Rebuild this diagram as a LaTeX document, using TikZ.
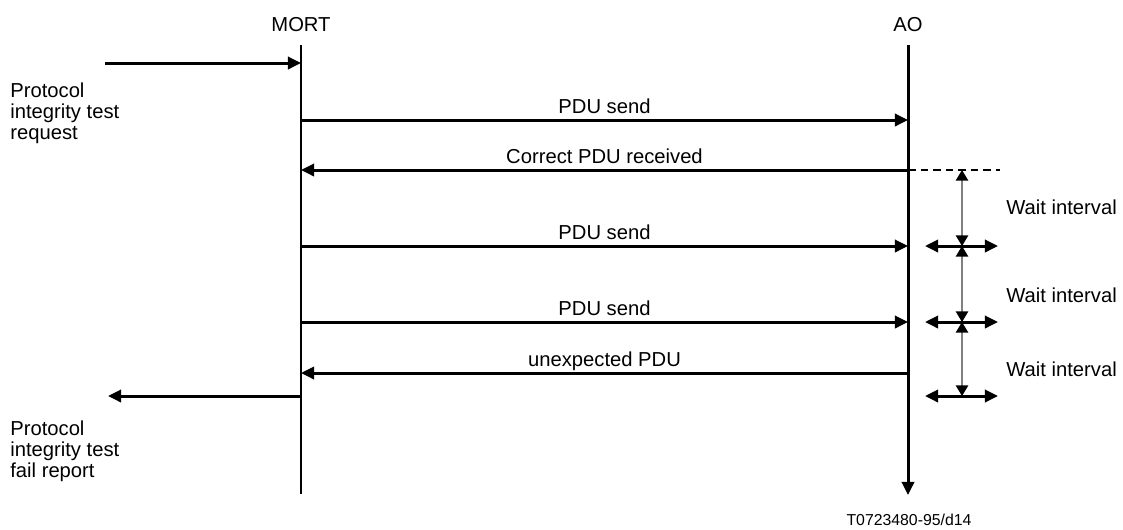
\documentclass[tikz,border=0pt]{standalone}
\usepackage{fontspec}
\setmainfont{Liberation Sans}
\usetikzlibrary{arrows.meta}
\tikzset{
  life/.style={line width=1.7pt},
  msg/.style={line width=1.7pt, -{Triangle[length=7.5pt,width=7pt]}},
  span/.style={line width=1.7pt, {Triangle[length=7.5pt,width=7pt]}-{Triangle[length=7.5pt,width=7pt]}},
  interval/.style={gray, line width=0.7pt, {Triangle[length=6pt,width=7pt,color=black]}-{Triangle[length=6pt,width=7pt,color=black]}},
  lbl/.style={anchor=base, yshift=0.13cm, inner sep=0pt},
  side/.style={anchor=north west, align=left, inner sep=0pt}
}
\begin{document}
\begin{tikzpicture}[font=\fontsize{11.5}{12}\selectfont]
\useasboundingbox (0,0) rectangle (22.46,-10.58);

\node[anchor=base] (mort) at (6.02,-0.62) {MORT};
\node[anchor=base] (ao) at (18.16,-0.62) {AO};
\coordinate (mort top) at (6.02,-0.9);
\coordinate (mort end) at (6.02,-9.88);
\coordinate (ao top) at (18.16,-0.9);
\coordinate (ao end) at (18.16,-9.9);
\draw[life] (mort top) -- (mort end);
\draw[msg] (ao top) -- (ao end);

% message levels
\foreach \n/\y in {1/-2.4, 2/-3.4, 3/-4.92, 4/-6.44, 5/-7.46} {
  \coordinate (m\n) at (6.02,\y);
  \coordinate (a\n) at (18.16,\y);
}
\draw[msg] (m1) -- node[lbl] {PDU send} (a1);
\draw[msg] (a2) -- node[lbl] {Correct PDU received} (m2);
\draw[msg] (m3) -- node[lbl] {PDU send} (a3);
\draw[msg] (m4) -- node[lbl] {PDU send} (a4);
\draw[msg] (a5) -- node[lbl] {unexpected PDU} (m5);

% request and report
\coordinate (req) at (2.1,-1.26);
\coordinate (m0) at (6.02,-1.26);
\coordinate (m6) at (6.02,-7.92);
\coordinate (fail) at (2.16,-7.92);
\draw[msg] (req) -- (m0);
\draw[msg] (m6) -- (fail);
\node[side] (reqtxt) at (0.2,-1.65) {Protocol\\integrity test\\request};
\node[side] (failtxt) at (0.2,-8.41) {Protocol\\integrity test\\fail report};

% wait intervals
\coordinate (w0) at (19.24,-3.4);
\coordinate (dash end) at (20.0,-3.4);
\draw[line width=0.9pt, dash pattern=on 0.15cm off 0.1cm] (a2) -- (dash end);
\foreach \n/\y in {1/-4.92, 2/-6.44, 3/-7.92} {
  \coordinate (w\n) at (19.24,\y);
  \coordinate (wl\n) at (18.5,\y);
  \coordinate (wr\n) at (19.96,\y);
  \draw[span] (wl\n) -- (wr\n);
}
\draw[interval] (w0) -- (w1);
\draw[interval] (w1) -- (w2);
\draw[interval] (w2) -- (w3);
\foreach \n/\y in {1/-4.28, 2/-6.04, 3/-7.52}
  \node[anchor=base west, inner sep=0pt] (wait\n) at (20.12,\y) {Wait interval};

\node[anchor=base, font=\fontsize{9}{10}\selectfont] (ref) at (18.18,-10.5) {T0723480-95/d14};

\end{tikzpicture}
\end{document}
